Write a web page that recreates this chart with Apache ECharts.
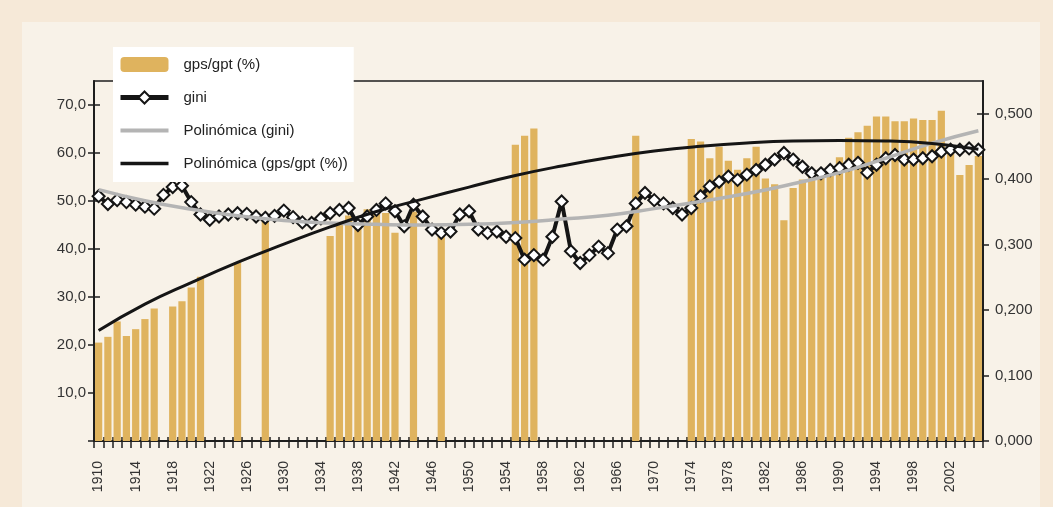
<!DOCTYPE html>
<html>
<head>
<meta charset="utf-8">
<script src="https://cdn.jsdelivr.net/npm/echarts@6/dist/echarts.min.js"></script>
<style>
html,body{margin:0;padding:0;background:#f6e9d8;}
#c{width:1053px;height:507px;}
</style>
</head>
<body>
<div id="c"></div>
<script>
const years = ['1910','1911','1912','1913','1914','1915','1916','1917','1918','1919',
'1920','1921','1922','1923','1924','1925','1926','1927','1928','1929',
'1930','1931','1932','1933','1934','1935','1936','1937','1938','1939',
'1940','1941','1942','1943','1944','1945','1946','1947','1948','1949',
'1950','1951','1952','1953','1954','1955','1956','1957','1958','1959',
'1960','1961','1962','1963','1964','1965','1966','1967','1968','1969',
'1970','1971','1972','1973','1974','1975','1976','1977','1978','1979',
'1980','1981','1982','1983','1984','1985','1986','1987','1988','1989',
'1990','1991','1992','1993','1994','1995','1996','1997','1998','1999',
'2000','2001','2002','2003','2004','2005'];

// gps/gpt (%) per year, null where no bar
const gpsGpt = [20.5,21.7,24.9,21.9,23.3,25.4,27.6,null,28.0,29.1,
32.0,34.2,null,null,null,37.2,null,null,46.0,null,
null,null,null,null,null,42.7,45.5,47.0,46.0,48.3,
47.6,47.5,43.4,null,47.8,null,null,43.8,null,null,
null,null,null,null,null,61.7,63.6,65.1,null,null,
null,null,null,null,null,null,null,null,63.6,null,
null,null,null,null,62.9,62.4,58.9,61.3,58.4,56.5,
58.9,61.3,54.7,53.5,46.0,52.7,54.5,55.6,56.3,57.0,
59.1,63.2,64.3,65.7,67.6,67.6,66.6,66.6,67.2,66.9,
66.9,68.8,61.0,55.4,57.5,59.4];

// gini per year
const gini = [0.374,0.362,0.368,0.365,0.361,0.358,0.355,0.376,0.388,0.390,
0.365,0.346,0.338,0.343,0.346,0.348,0.347,0.343,0.341,0.344,
0.352,0.342,0.334,0.333,0.340,0.348,0.353,0.356,0.330,0.343,
0.353,0.363,0.351,0.328,0.361,0.343,0.323,0.318,0.320,0.346,
0.351,0.323,0.318,0.320,0.312,0.310,0.277,0.284,0.277,0.312,
0.366,0.290,0.272,0.284,0.297,0.287,0.323,0.328,0.363,0.379,
0.368,0.363,0.356,0.346,0.356,0.374,0.389,0.396,0.404,0.399,
0.407,0.414,0.422,0.430,0.440,0.430,0.419,0.409,0.409,0.414,
0.417,0.422,0.425,0.410,0.422,0.432,0.437,0.430,0.430,0.432,
0.435,0.442,0.445,0.445,0.447,0.445];

// trend lines read at sample years
const trendYears = [1910,1915,1920,1925,1930,1935,1940,1945,1950,1955,1960,1965,1970,1975,1980,1985,1990,1995,2000,2005];
const trendGps  = [23.0,28.5,33.0,37.2,41.0,44.6,47.8,50.4,52.9,55.3,57.3,59.0,60.4,61.4,62.1,62.5,62.6,62.5,62.0,60.8];
const trendGini = [0.384,0.367,0.354,0.344,0.337,0.333,0.331,0.330,0.331,0.334,0.339,0.345,0.355,0.366,0.378,0.393,0.410,0.432,0.455,0.474];

const leftTicks = [0,10,20,30,40,50,60,70];
const leftLabels = [10,20,30,40,50,60,70];
const rightTicks = [0,0.1,0.2,0.3,0.4,0.5];

const FONT = "'Liberation Sans',Arial,sans-serif";
const AX = '#1e1e1e';

const chart = echarts.init(document.getElementById('c'), null, {renderer:'canvas'});
const pair = (xs, ys) => xs.map((x, i) => [x, ys[i]]);

chart.setOption({
  animation: false,
  backgroundColor: '#f6e9d8',
  textStyle: {fontFamily: FONT},
  graphic: [{type:'rect', shape:{x:22, y:22, width:1018, height:490}, style:{fill:'#f8f2e8'}, z:-10}],
  grid: {left:94, right:70, top:81, bottom:66, show:true, borderColor:AX, borderWidth:1.5, backgroundColor:'transparent'},
  legend: {
    left:113, top:47, orient:'vertical', backgroundColor:'#ffffff',
    padding:[10,6,11,5], itemGap:18, itemWidth:48, itemHeight:15,
    textStyle:{fontFamily:FONT, fontSize:15, color:'#222', padding:[0,0,0,10]},
    data:[
      {name:'gps/gpt (%)'},
      {name:'gini', lineStyle:{width:5}},
      {name:'Polinómica (gini)', lineStyle:{width:4}},
      {name:'Polinómica (gps/gpt (%))', lineStyle:{width:3.5}}
    ]
  },
  xAxis: [
    {type:'category', data:years, position:'bottom', boundaryGap:true,
     axisLine:{lineStyle:{color:AX, width:2}},
     axisTick:{show:true, interval:0, length:7, lineStyle:{color:AX, width:1.5}},
     axisLabel:{interval:3, rotate:90, margin:20, fontSize:14, color:'#333', fontFamily:FONT}},
    {type:'category', data:years, position:'bottom', boundaryGap:true,
     axisLine:{show:false}, axisLabel:{show:false},
     axisTick:{show:true, inside:true, interval:0, length:4, lineStyle:{color:AX, width:1.5}}},
    {type:'value', min:1909.5, max:2005.5, show:false}
  ],
  yAxis: [
    {type:'value', position:'left', min:0, max:75, interval:10,
     splitLine:{show:false},
     axisLine:{show:true, lineStyle:{color:AX, width:2}},
     axisTick:{show:true, length:6, customValues:leftTicks, lineStyle:{color:AX, width:1.5}},
     axisLabel:{customValues:leftLabels, margin:8, fontSize:15, color:'#333', fontFamily:FONT,
       formatter:v => v.toFixed(1).replace('.', ',')}},
    {type:'value', position:'right', min:0, max:0.55, interval:0.1,
     splitLine:{show:false},
     axisLine:{show:true, lineStyle:{color:AX, width:2}},
     axisTick:{show:true, length:6, customValues:rightTicks, lineStyle:{color:AX, width:1.5}},
     axisLabel:{customValues:rightTicks, margin:12, fontSize:15, color:'#333', fontFamily:FONT,
       formatter:v => v.toFixed(3).replace('.', ',')}},
    {type:'value', position:'left', min:0, max:75, splitLine:{show:false},
     axisLine:{show:false}, axisLabel:{show:false},
     axisTick:{show:true, inside:true, length:6, customValues:leftTicks, lineStyle:{color:AX, width:1.5}}},
    {type:'value', position:'right', min:0, max:0.55, splitLine:{show:false},
     axisLine:{show:false}, axisLabel:{show:false},
     axisTick:{show:true, inside:true, length:6, customValues:rightTicks, lineStyle:{color:AX, width:1.5}}}
  ],
  series: [
    {name:'gps/gpt (%)', type:'bar', data:gpsGpt, xAxisIndex:0, yAxisIndex:0,
     barCategoryGap:'22%', itemStyle:{color:'#dfb35e'}, z:1},
    {name:'gini', type:'line', data:gini, xAxisIndex:0, yAxisIndex:1,
     symbol:'diamond', symbolSize:12, showAllSymbol:true,
     lineStyle:{color:'#151515', width:4},
     itemStyle:{color:'#ffffff', borderColor:'#151515', borderWidth:2}, z:3},
    {name:'Polinómica (gini)', type:'line', data:pair(trendYears, trendGini), xAxisIndex:2, yAxisIndex:1,
     smooth:true, symbol:'none', lineStyle:{color:'#b4b4b4', width:3.5}, itemStyle:{color:'#b4b4b4', opacity:0}, z:4},
    {name:'Polinómica (gps/gpt (%))', type:'line', data:pair(trendYears, trendGps), xAxisIndex:2, yAxisIndex:0,
     smooth:true, symbol:'none', lineStyle:{color:'#151515', width:3}, itemStyle:{color:'#151515', opacity:0}, z:4}
  ]
});
</script>
</body>
</html>
